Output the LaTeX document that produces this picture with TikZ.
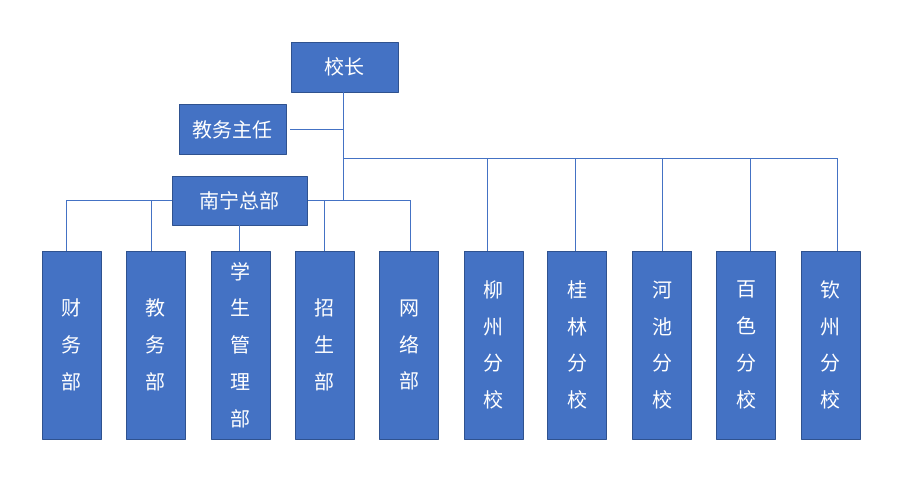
\documentclass[tikz,border=0pt]{standalone}
\usepackage{fontspec}
\newfontfamily\cjk{Noto Sans CJK SC}
\usetikzlibrary{positioning}
\definecolor{boxfill}{HTML}{4472C4}
\definecolor{boxline}{HTML}{2F528F}
\begin{document}
\begin{tikzpicture}[x=1pt,y=-1pt,line join=round,
	box/.style={draw=boxline,fill=boxfill,line width=0.8pt,text=white,inner sep=0pt,align=center,
		font=\cjk\fontsize{20}{36.8}\selectfont},
	head/.style={box,minimum width=107pt,minimum height=50pt},
	unit/.style={box,minimum width=59pt,minimum height=188pt},
	link/.style={draw=boxfill,line width=0.8pt}]
	\useasboundingbox (0,0) rectangle (902,479);
	\path
	(343,201) coordinate (T)
	(343,158) coordinate (F)
	(837,158) coordinate (FE)
	(66,200) coordinate (NW)
	(410,200) coordinate (NE)
	;
	% lines first, boxes on top
	\draw[link] (NW)--(NE);
	\node[head] (XZ) at (344.5,67) {校长};
	\node[head] (JWZR) at (232.5,129.5) {教务主任};
	\node[head,minimum width=135pt,minimum height=49pt] (NN) at (239.5,200.5) {南宁总部};
	\foreach \n/\x/\t in {CW/71.5/财\\务\\部,JW/155.5/教\\务\\部,XS/240.5/学\\生\\管\\理\\部,ZS/324.5/招\\生\\部,WL/409/网\\络\\部,
		LZ/493.5/柳\\州\\分\\校,GL/577/桂\\林\\分\\校,HC/662/河\\池\\分\\校,BS/746/百\\色\\分\\校,QZ/830.5/钦\\州\\分\\校}
		\node[unit] (\n) at (\x,345) {\t};
	\draw[link] (XZ.south-|T)--(T)
	(F)--(FE)
	(JWZR.east)++(4,0)--(JWZR.east-|T)
	(NN.south)--(NN.south|-XS.north)
	;
	\foreach \n/\x in {CW/66,JW/151,ZS/324,WL/410}\draw[link] (\x,200)--(\x,200|-\n.north);
	\foreach \n/\x in {LZ/487,GL/575,HC/662,BS/750,QZ/837}\draw[link] (\x,158)--(\x,158|-\n.north);
\end{tikzpicture}
\end{document}
